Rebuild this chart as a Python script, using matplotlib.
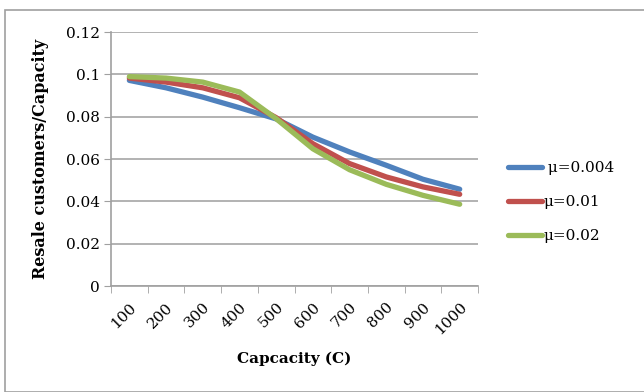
import matplotlib.pyplot as plt
from matplotlib.patches import Rectangle
from matplotlib.ticker import FixedLocator

capacity = [100, 200, 300, 400, 500, 600, 700, 800, 900, 1000]
mu_0004 = [0.0972, 0.0937, 0.0893, 0.0843, 0.0790, 0.0704, 0.0634, 0.0571, 0.0505, 0.0458]
mu_001 = [0.0983, 0.0964, 0.0937, 0.0890, 0.0796, 0.0673, 0.0579, 0.0516, 0.0469, 0.0434]
mu_002 = [0.0990, 0.0983, 0.0964, 0.0917, 0.0791, 0.0649, 0.0550, 0.0481, 0.0429, 0.0387]
y_ticks = [0, 0.02, 0.04, 0.06, 0.08, 0.1, 0.12]

plt.rcParams['font.family'] = ['DejaVu Serif']

fig = plt.figure(figsize=(6.44, 3.92), dpi=100)
ax = fig.add_axes([0.1724, 0.270, 0.5699, 0.648])

x = range(len(capacity))
ax.plot(x, mu_0004, color='#4F81BD', lw=3.8, label=' \u03bc=0.004', solid_capstyle='round')
ax.plot(x, mu_001, color='#C0504D', lw=3.8, label='\u03bc=0.01', solid_capstyle='round')
ax.plot(x, mu_002, color='#9BBB59', lw=3.8, label='\u03bc=0.02', solid_capstyle='round')

ax.set_xlim(-0.5, len(capacity) - 0.5)
ax.set_ylim(0, 0.12)
ax.set_yticks(y_ticks)
ax.set_yticklabels([f'{v:g}' for v in y_ticks], fontsize=11)
ax.set_xticks(list(x))
ax.set_xticklabels([str(c) for c in capacity], rotation=45, fontsize=11,
                   ha='right', va='top', rotation_mode='anchor')
ax.xaxis.set_minor_locator(FixedLocator([i - 0.5 for i in range(len(capacity) + 1)]))
ax.tick_params(axis='x', which='major', length=0, pad=10)
ax.tick_params(axis='x', which='minor', length=5, color='#A0A0A0', direction='out')
ax.tick_params(axis='y', length=5, color='#A0A0A0', direction='out', pad=3)

ax.grid(axis='y', color='#A6A6A6', lw=1.2)
ax.set_axisbelow(True)
for s in ['top', 'right']:
    ax.spines[s].set_visible(False)
for s in ['left', 'bottom']:
    ax.spines[s].set_color('#A0A0A0')
    ax.spines[s].set_linewidth(1.2)

ax.set_xlabel('Capcacity (C)', fontsize=11, fontweight='bold', labelpad=10)
ax.set_ylabel('Resale customers/Capacity', fontsize=11.5, fontweight='bold', labelpad=12)

ax.legend(loc='center left', bbox_to_anchor=(1.045, 0.33), frameon=False,
          fontsize=11, handlelength=2.2, handletextpad=0.1, labelspacing=1.3)

# outer chart frame
fig.patches.append(Rectangle((5 / 644, 0), 1.0, 1 - 10 / 392, transform=fig.transFigure,
                             fill=False, edgecolor='#A0A0A0', lw=1.2))

fig.savefig('out.png', dpi=100)
